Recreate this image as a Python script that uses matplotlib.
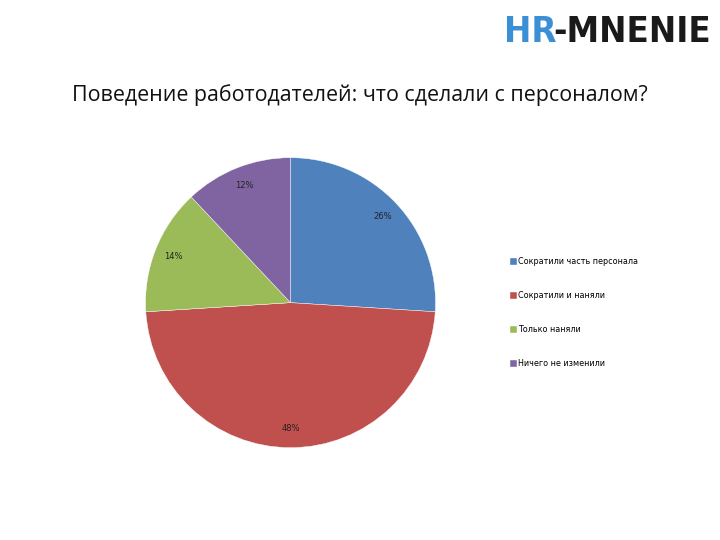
import matplotlib.pyplot as plt

categories = ["Сократили часть персонала", "Сократили и наняли",
              "Только наняли", "Ничего не изменили"]
shares = [26, 48, 14, 12]
colors = ["#4f81bd", "#c0504d", "#9bbb59", "#8064a2"]

fig = plt.figure(figsize=(7.2, 5.4), dpi=100)
fig.patch.set_facecolor("white")

ax = fig.add_axes([0.202, 0.171, 0.403, 0.537])
wedges, texts, autotexts = ax.pie(
    shares, colors=colors, startangle=90, counterclock=False,
    autopct="%d%%", pctdistance=0.87,
    wedgeprops={"linewidth": 0.3, "edgecolor": "white"},
    textprops={"fontsize": 6, "color": "#222222", "family": "DejaVu Sans"})
ax.set_xlim(-1, 1)
ax.set_ylim(-1, 1)
ax.set_aspect("equal")

leg = fig.legend(wedges, categories, loc="upper left",
                 bbox_to_anchor=(0.698, 0.537), frameon=False,
                 fontsize=5.8, handlelength=0.9, handleheight=0.9,
                 handletextpad=0.15, labelspacing=3.1)

fig.text(0.5, 0.824, "Поведение работодателей: что сделали с персоналом?",
         ha="center", va="center", fontsize=15.4, family="Open Sans",
         color="#111111")

# logo
fig.text(0.70, 0.94, "HR", ha="left", va="center", fontsize=26.2,
         fontweight="bold", fontstretch="condensed",
         family="DejaVu Sans", color="#3b8fd4")
fig.text(0.769, 0.94, "-MNENIE", ha="left", va="center", fontsize=26.2,
         fontweight="bold", fontstretch="condensed",
         family="DejaVu Sans", color="#1a1a1a")

fig.savefig("out.png", dpi=100, facecolor="white")
